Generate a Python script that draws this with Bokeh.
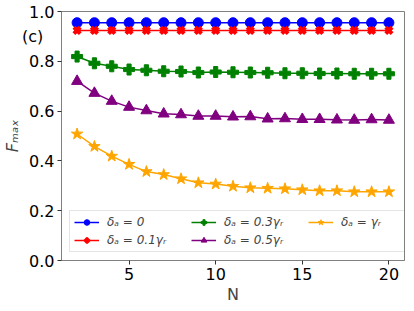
from bokeh.plotting import figure
from bokeh.models import Range1d, FixedTicker, Legend, LegendItem, CustomJSTickFormatter, Div
from bokeh.layouts import column
from bokeh.embed import file_html
from bokeh.resources import INLINE

N = list(range(2, 21))
f_0 = [0.955] * 19
f_01 = [0.924] * 19
f_03 = [0.819, 0.792, 0.780, 0.767, 0.764, 0.760, 0.759, 0.755, 0.757, 0.756,
        0.755, 0.754, 0.752, 0.752, 0.751, 0.751, 0.750, 0.750, 0.750]
f_05 = [0.720, 0.672, 0.640, 0.616, 0.602, 0.589, 0.586, 0.580, 0.580, 0.577,
        0.578, 0.569, 0.570, 0.567, 0.567, 0.565, 0.564, 0.566, 0.564]
f_1 = [0.508, 0.458, 0.419, 0.386, 0.357, 0.345, 0.328, 0.312, 0.307, 0.298,
       0.292, 0.290, 0.288, 0.284, 0.280, 0.280, 0.276, 0.276, 0.276]
labels = ["δₐ = 0", "δₐ = 0.1γᵣ", "δₐ = 0.3γᵣ", "δₐ = 0.5γᵣ", "δₐ = γᵣ"]
x_ticks = [5, 10, 15, 20]
y_ticks = [0.0, 0.2, 0.4, 0.6, 0.8, 1.0]

FONT = "DejaVu Sans"

p = figure(width=406, height=303, output_backend="svg", toolbar_location=None,
           x_range=Range1d(1.1, 20.9), y_range=Range1d(0.0, 1.0),
           min_border_left=56, min_border_top=11, min_border_right=7, min_border_bottom=43)
p.frame_width = 343
p.frame_height = 249
p.grid.visible = False
p.outline_line_color = "#808080"
p.outline_line_width = 1

for ax in (p.xaxis[0], p.yaxis[0]):
    ax.axis_line_color = "#808080"
    ax.major_tick_line_color = "#333333"
    ax.minor_tick_line_color = None
    ax.major_tick_in = 0
    ax.major_tick_out = 4
    ax.major_label_text_font = FONT
    ax.major_label_text_font_size = "16px"
    ax.major_label_text_color = "black"
    ax.axis_label_text_font = FONT
    ax.axis_label_text_font_size = "16px"
    ax.axis_label_text_font_style = "normal"
    ax.major_label_standoff = 3

p.xaxis.ticker = FixedTicker(ticks=x_ticks)
p.yaxis.ticker = FixedTicker(ticks=y_ticks)
p.yaxis.formatter = CustomJSTickFormatter(code="return tick.toFixed(1);")
p.xaxis.axis_label = "N"
p.yaxis.axis_label = "Fₘₐₓ"
p.yaxis.axis_label_text_font_style = "italic"
p.xaxis.axis_label_standoff = 2
p.yaxis.axis_label_standoff = 4

series = [
    (f_0, "blue", "circle", 10, 0),
    (f_01, "red", "x", 9, 4),
    (f_03, "green", "plus", 11, 0),
    (f_05, "purple", "triangle", 11, 0),
    (f_1, "orange", "star", 12, 0),
]
items = []
for (vals, col, mk, sz, lw), lab in zip(series, labels):
    r1 = p.line(N, vals, line_color=col, line_width=1.5)
    if mk == "x":
        r2 = p.scatter(N, vals, marker=mk, size=sz, line_color=col, line_width=lw)
    else:
        r2 = p.scatter(N, vals, marker=mk, size=sz, fill_color=col, line_color=col)
    items.append(LegendItem(label=lab, renderers=[r1, r2]))

leg = Legend(items=items, location="bottom_left", nrows=2,
             label_text_font=FONT, label_text_font_size="12px",
             label_text_font_style="italic",
             glyph_width=25, glyph_height=14, label_height=14, label_width=80,
             spacing=4, padding=4, margin=8, label_standoff=8,
             border_line_color="#cccccc", background_fill_alpha=0.8)
p.add_layout(leg, "center")

div = Div(text='<span style="font-family: \'DejaVu Sans\'; font-size: 16px; line-height: 1.164; color: black;">(c)</span>',
          styles={"position": "absolute", "left": "22px", "top": "28px",
                  "font-family": "DejaVu Sans", "font-size": "16px",
                  "line-height": "1.164", "color": "black", "z-index": "10"})
root = p
try:
    p.elements = [div]
except Exception:
    root = column(div, p)

open("out.html", "w").write(file_html(root, INLINE))
